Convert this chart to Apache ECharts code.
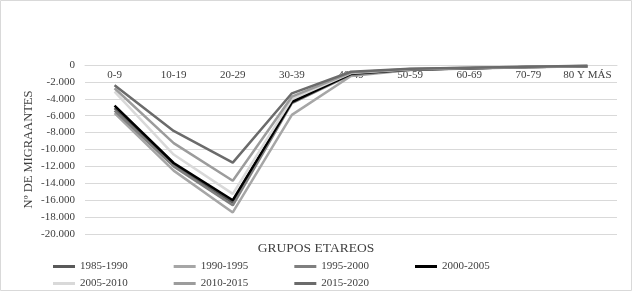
<!DOCTYPE html>
<html>
<head>
<meta charset="utf-8">
<script src="https://cdn.jsdelivr.net/npm/echarts@6/dist/echarts.min.js"></script>
<style>
html,body{margin:0;padding:0;background:#fff;}
#c{width:632px;height:291px;}
</style>
</head>
<body>
<div id="c"></div>
<script>
const categories = ['0-9','10-19','20-29','30-39','40-49','50-59','60-69','70-79','80 Y MÁS'];
const seriesNames = ['1985-1990','1990-1995','1995-2000','2000-2005','2005-2010','2010-2015','2015-2020'];
const s1985 = [-5100, -11800, -16300, -4300, -1100, -550, -380, -250, -150];
const s1990 = [-5700, -12500, -17450, -5900, -1300, -600, -400, -260, -160];
const s1995 = [-5400, -12000, -16600, -4500, -1150, -560, -390, -250, -150];
const s2000 = [-4800, -11600, -16000, -4400, -1050, -540, -370, -240, -140];
const s2005 = [-3150, -10600, -15250, -4050, -950, -500, -350, -230, -130];
const s2010 = [-2750, -9250, -13700, -3750, -900, -480, -340, -220, -120];
const s2015 = [-2400, -7800, -11550, -3350, -800, -450, -320, -200, -100];
const yTicks = [0,-2000,-4000,-6000,-8000,-10000,-12000,-14000,-16000,-18000,-20000];

const seriesData = [s1985, s1990, s1995, s2000, s2005, s2010, s2015];
const colors = ['#595959','#a6a6a6','#7f7f7f','#000000','#d9d9d9','#9c9c9c','#6b6b6b'];
const serif = '"Liberation Serif", "DejaVu Serif", serif';

function fmt(v){
  if (v === 0) return '0';
  const a = Math.abs(v);
  const s = String(a).replace(/\B(?=(\d{3})+(?!\d))/g, '.');
  return (v < 0 ? '-' : '') + s;
}

const chart = echarts.init(document.getElementById('c'));
const legendBase = {
  left: 48,
  orient: 'horizontal',
  icon: 'rect',
  itemWidth: 22,
  itemHeight: 3,
  itemGap: 46,
  textStyle: {fontFamily: serif, fontSize: 11, color: '#404040', padding:[0,0,0,0]}
};
chart.setOption({
  animation: false,
  color: colors,
  grid: {left: 85, right: 15, top: 65, bottom: 57, containLabel: false},
  graphic: [{
    type: 'rect', shape: {x: 0.5, y: 0.5, width: 631, height: 290},
    style: {fill: 'none', stroke: '#d9d9d9', lineWidth: 1}, silent: true
  }],
  title: {
    text: 'GRUPOS ETAREOS', left: 'center', top: 236,
    textStyle: {fontFamily: serif, fontSize: 13.5, fontWeight: 'normal', color: '#404040'}
  },
  legend: [
    Object.assign({}, legendBase, {top: 256, data: seriesNames.slice(0,4)}),
    Object.assign({}, legendBase, {top: 273, data: seriesNames.slice(4)})
  ],
  xAxis: {
    type: 'category',
    data: categories,
    boundaryGap: true,
    position: 'top',
    axisLine: {show: true, onZero: false, lineStyle: {color: '#d9d9d9'}},
    axisTick: {show: false},
    axisLabel: {inside: true, interval: 0, fontFamily: serif, fontSize: 11, color: '#404040', margin: 5}
  },
  yAxis: {
    type: 'value',
    min: -20000, max: 0, interval: 2000,
    name: 'Nº DE MIGRAANTES',
    nameLocation: 'middle',
    nameGap: 50,
    nameMoveOverlap: false,
    nameTextStyle: {fontFamily: serif, fontSize: 12.5, color: '#404040'},
    axisLine: {show: false},
    axisTick: {show: false},
    splitLine: {lineStyle: {color: '#d9d9d9', width: 1}},
    axisLabel: {fontFamily: serif, fontSize: 11, color: '#404040', margin: 10, formatter: fmt}
  },
  series: seriesNames.map((n, i) => ({
    name: n,
    type: 'line',
    data: seriesData[i],
    symbol: 'none',
    lineStyle: {width: 2.5, color: colors[i]},
    itemStyle: {color: colors[i]}
  }))
});
</script>
</body>
</html>
